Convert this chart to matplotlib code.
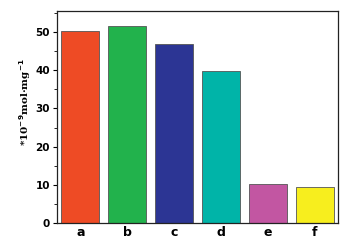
import matplotlib.pyplot as plt
from matplotlib.ticker import MultipleLocator

# 样品名称
samples = ['a', 'b', 'c', 'd', 'e', 'f']
# 数值 (*10^-9 mol·mg^-1)
values = [50.3, 51.6, 46.9, 39.9, 10.2, 9.3]
# 柱子颜色
colors = ['#EE4B25', '#22B24C', '#2C3594', '#00B4A8', '#C256A2', '#F7EE1E']

fig = plt.figure(figsize=(3.52, 2.42), dpi=100)
ax = fig.add_axes([57 / 352, 19 / 242, 281 / 352, 212 / 242])

x = range(len(samples))
ax.bar(x, values, width=0.81, color=colors, edgecolor='#555555', linewidth=0.6)

ax.set_xlim(-0.5, 5.5)
ax.set_ylim(0, 55.5)
ax.set_xticks(list(x))
ax.set_xticklabels(samples, fontsize=9, fontweight='bold')
ax.tick_params(axis='x', length=0, pad=2)

ax.yaxis.set_major_locator(MultipleLocator(10))
ax.yaxis.set_minor_locator(MultipleLocator(5))
ax.tick_params(axis='y', which='major', direction='out', length=3, width=0.8, labelsize=7.5, pad=2)
ax.tick_params(axis='y', which='minor', direction='out', length=2, width=0.6)
for lab in ax.get_yticklabels():
    lab.set_fontweight('bold')

ax.set_ylabel(r'*10$^{\mathbf{-9}}$mol·mg$^{\mathbf{-1}}$', fontsize=7.5, fontweight='bold',
              family='DejaVu Serif')
ax.yaxis.set_label_coords(-0.085, 0.57)

for s in ax.spines.values():
    s.set_linewidth(0.9)
    s.set_color('#222222')

fig.savefig('out.png', dpi=100)
